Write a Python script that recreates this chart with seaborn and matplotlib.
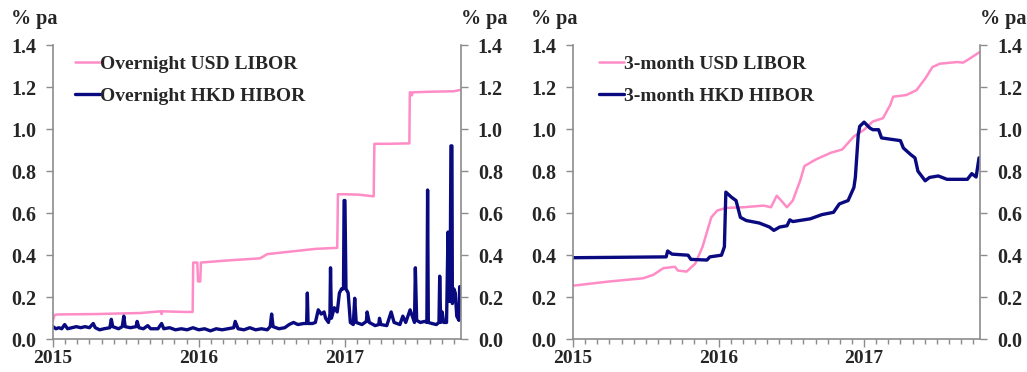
import matplotlib
matplotlib.use("Agg")
import matplotlib.pyplot as plt
import numpy as np
import pandas as pd
import seaborn as sns
from matplotlib.ticker import FixedLocator, MultipleLocator, FormatStrFormatter

sns.set_style("white")
plt.rcParams["font.family"] = ["Liberation Serif", "DejaVu Serif"]
plt.rcParams["font.weight"] = "bold"

PINK = "#ff8cc6"
NAVY = "#0a0a80"
GREY = "#8c8c8c"

# dates as decimal years
on_usd_t = [2015.0, 2015.01, 2015.03, 2015.3, 2015.6, 2015.74, 2015.745, 2015.75, 2015.9,
            2015.958, 2015.962, 2015.99, 2015.995, 2016.01, 2016.015, 2016.2, 2016.42,
            2016.47, 2016.6, 2016.8, 2016.95, 2016.955, 2017.0, 2017.1, 2017.2, 2017.205,
            2017.3, 2017.445, 2017.448, 2017.455, 2017.46, 2017.47, 2017.6, 2017.75, 2017.8]
on_usd_v = [0.09, 0.115, 0.118, 0.12, 0.125, 0.133, 0.12, 0.133, 0.13,
            0.13, 0.365, 0.365, 0.275, 0.275, 0.365, 0.375, 0.385,
            0.405, 0.415, 0.43, 0.435, 0.69, 0.69, 0.688, 0.68, 0.93,
            0.93, 0.932, 1.175, 1.175, 1.16, 1.175, 1.178, 1.18, 1.187]

on_hkd_t = [2015.00, 2015.02, 2015.04, 2015.06, 2015.08, 2015.10, 2015.13, 2015.16, 2015.19,
            2015.22, 2015.25, 2015.276, 2015.29, 2015.32, 2015.35, 2015.39, 2015.40, 2015.41,
            2015.45, 2015.475, 2015.486, 2015.495, 2015.53, 2015.57, 2015.577, 2015.59,
            2015.62, 2015.65, 2015.67, 2015.72, 2015.745, 2015.76, 2015.80, 2015.84, 2015.88,
            2015.92, 2015.96, 2016.00, 2016.04, 2016.08, 2016.12, 2016.16, 2016.20, 2016.24,
            2016.25, 2016.27, 2016.31, 2016.35, 2016.39, 2016.43, 2016.47, 2016.49, 2016.50,
            2016.51, 2016.55, 2016.59, 2016.62, 2016.65, 2016.68, 2016.72, 2016.74, 2016.745,
            2016.75, 2016.78, 2016.80, 2016.82, 2016.84, 2016.86, 2016.87, 2016.89, 2016.90,
            2016.904, 2016.91, 2016.93, 2016.95, 2016.965, 2016.98, 2016.993, 2016.997,
            2017.003, 2017.01, 2017.025, 2017.04, 2017.06, 2017.07, 2017.08, 2017.12, 2017.15,
            2017.155, 2017.17, 2017.21, 2017.235, 2017.24, 2017.25, 2017.29, 2017.32, 2017.34,
            2017.38, 2017.40, 2017.42, 2017.44, 2017.45, 2017.47, 2017.48, 2017.486, 2017.495,
            2017.52, 2017.55, 2017.565, 2017.57, 2017.575, 2017.60, 2017.63, 2017.648,
            2017.653, 2017.66, 2017.67, 2017.68, 2017.70, 2017.71, 2017.72, 2017.725, 2017.73,
            2017.737, 2017.74, 2017.75, 2017.76, 2017.77, 2017.785, 2017.79, 2017.80]
on_hkd_v = [0.06, 0.05, 0.055, 0.05, 0.07, 0.05, 0.055, 0.06, 0.055,
            0.06, 0.055, 0.075, 0.055, 0.045, 0.05, 0.055, 0.095, 0.06,
            0.05, 0.06, 0.11, 0.06, 0.055, 0.06, 0.085, 0.055,
            0.05, 0.065, 0.05, 0.05, 0.075, 0.05, 0.055, 0.045, 0.05,
            0.045, 0.055, 0.045, 0.05, 0.04, 0.05, 0.045, 0.05, 0.055,
            0.085, 0.05, 0.045, 0.055, 0.045, 0.05, 0.045, 0.06, 0.12,
            0.06, 0.05, 0.055, 0.07, 0.08, 0.07, 0.075, 0.075, 0.22,
            0.075, 0.075, 0.08, 0.14, 0.12, 0.13, 0.10, 0.08, 0.12,
            0.34, 0.10, 0.15, 0.13, 0.22, 0.24, 0.24, 0.66,
            0.66, 0.24, 0.22, 0.08, 0.07, 0.195, 0.08, 0.07, 0.085,
            0.13, 0.08, 0.065, 0.07, 0.10, 0.07, 0.065, 0.13, 0.08,
            0.07, 0.11, 0.08, 0.12, 0.14, 0.10, 0.08, 0.34, 0.09,
            0.08, 0.085, 0.08, 0.71, 0.08, 0.075, 0.07, 0.08,
            0.30, 0.08, 0.13, 0.08, 0.08, 0.51, 0.18, 0.30, 0.92,
            0.92, 0.17, 0.24, 0.22, 0.11, 0.09, 0.25, 0.25]

m3_usd_t = [2015.0, 2015.25, 2015.48, 2015.55, 2015.62, 2015.70, 2015.72, 2015.78, 2015.84,
            2015.89, 2015.95, 2015.99, 2016.05, 2016.17, 2016.31, 2016.36, 2016.40, 2016.43,
            2016.47, 2016.51, 2016.56, 2016.59, 2016.67, 2016.77, 2016.85, 2016.93, 2017.0,
            2017.06, 2017.13, 2017.18, 2017.20, 2017.29, 2017.36, 2017.42, 2017.47, 2017.52,
            2017.64, 2017.68, 2017.73, 2017.80]
m3_usd_v = [0.255, 0.275, 0.29, 0.306, 0.338, 0.345, 0.327, 0.322, 0.36,
            0.44, 0.58, 0.612, 0.625, 0.628, 0.636, 0.628, 0.683, 0.66,
            0.628, 0.66, 0.753, 0.824, 0.856, 0.887, 0.903, 0.965, 0.997,
            1.036, 1.052, 1.115, 1.154, 1.162, 1.185, 1.24, 1.295, 1.311,
            1.319, 1.316, 1.337, 1.369]

m3_hkd_t = [2015.0, 2015.64, 2015.65, 2015.68, 2015.79, 2015.81, 2015.92, 2015.94, 2016.02,
            2016.04, 2016.05, 2016.09, 2016.12, 2016.15, 2016.19, 2016.28, 2016.35, 2016.38,
            2016.42, 2016.47, 2016.49, 2016.51, 2016.63, 2016.71, 2016.79, 2016.83, 2016.89,
            2016.93, 2016.94, 2016.96, 2016.97, 2017.0, 2017.04, 2017.06, 2017.10, 2017.12,
            2017.25, 2017.27, 2017.32, 2017.35, 2017.37, 2017.42, 2017.45, 2017.51, 2017.57,
            2017.71, 2017.74, 2017.77, 2017.79, 2017.80]
m3_hkd_v = [0.388, 0.392, 0.42, 0.405, 0.40, 0.38, 0.377, 0.392, 0.40,
            0.44, 0.70, 0.675, 0.66, 0.58, 0.565, 0.553, 0.534, 0.518,
            0.534, 0.54, 0.568, 0.56, 0.573, 0.593, 0.604, 0.644, 0.66,
            0.722, 0.77, 0.973, 1.013, 1.033, 1.005, 0.997, 0.997, 0.958,
            0.945, 0.91, 0.879, 0.863, 0.80, 0.754, 0.77, 0.777, 0.761,
            0.761, 0.788, 0.772, 0.863, 0.86]

panels = [
    ("Overnight USD LIBOR", on_usd_t, on_usd_v, "Overnight HKD HIBOR", on_hkd_t, on_hkd_v),
    ("3-month USD LIBOR", m3_usd_t, m3_usd_v, "3-month HKD HIBOR", m3_hkd_t, m3_hkd_v),
]
years = [2015, 2016, 2017]
yticks = [0.0, 0.2, 0.4, 0.6, 0.8, 1.0, 1.2, 1.4]

fig = plt.figure(figsize=(10.27, 3.72), dpi=100)
boxes = [[0.0516, 0.088, 0.3974, 0.791], [0.558, 0.088, 0.3967, 0.791]]
legend_x = [0.0105, 0.02]

for box, lx, (l1, t1, v1, l2, t2, v2) in zip(boxes, legend_x, panels):
    ax = fig.add_axes(box)
    sns.lineplot(x=t1, y=v1, ax=ax, color=PINK, linewidth=1.8, label=l1, estimator=None)
    sns.lineplot(x=t2, y=v2, ax=ax, color=NAVY, linewidth=2.4, label=l2, estimator=None)
    ax.set_xlim(2015, 2017.80)
    ax.set_ylim(0, 1.4)
    ax.xaxis.set_major_locator(FixedLocator(years))
    ax.xaxis.set_minor_locator(MultipleLocator(1 / 12))
    ax.set_xticklabels([str(y) for y in years])
    ax.set_yticks(yticks)
    ax.yaxis.set_major_formatter(FormatStrFormatter("%.1f"))
    ax.tick_params(axis="y", left=True, right=True, labelleft=True, labelright=True,
                   direction="out", length=5, width=1, color=GREY, labelsize=14.5, pad=7)
    ax.tick_params(axis="x", which="major", bottom=True, direction="out", length=6,
                   width=1, color=GREY, labelsize=14, pad=1.5)
    ax.tick_params(axis="x", which="minor", bottom=True, direction="out", length=3.5,
                   width=1, color=GREY)
    for s in ["left", "right", "bottom"]:
        ax.spines[s].set_visible(True)
        ax.spines[s].set_color(GREY)
        ax.spines[s].set_linewidth(1.2)
    ax.spines["top"].set_visible(False)
    for lab in ax.get_xticklabels() + ax.get_yticklabels():
        lab.set_fontweight("bold")
    ax.set_xlabel("")
    ax.set_ylabel("")
    ax.text(-0.103, 1.09, "% pa", transform=ax.transAxes, ha="left", va="center",
            fontsize=14.5, fontweight="bold")
    ax.text(1.113, 1.09, "% pa", transform=ax.transAxes, ha="right", va="center",
            fontsize=14.5, fontweight="bold")
    ax.legend(loc="upper left", bbox_to_anchor=(lx, 1.025), frameon=False,
              handlelength=1.3, handletextpad=0.0, labelspacing=0.76,
              prop={"weight": "bold", "size": 14})

fig.savefig("out.png", dpi=100, facecolor="white")
